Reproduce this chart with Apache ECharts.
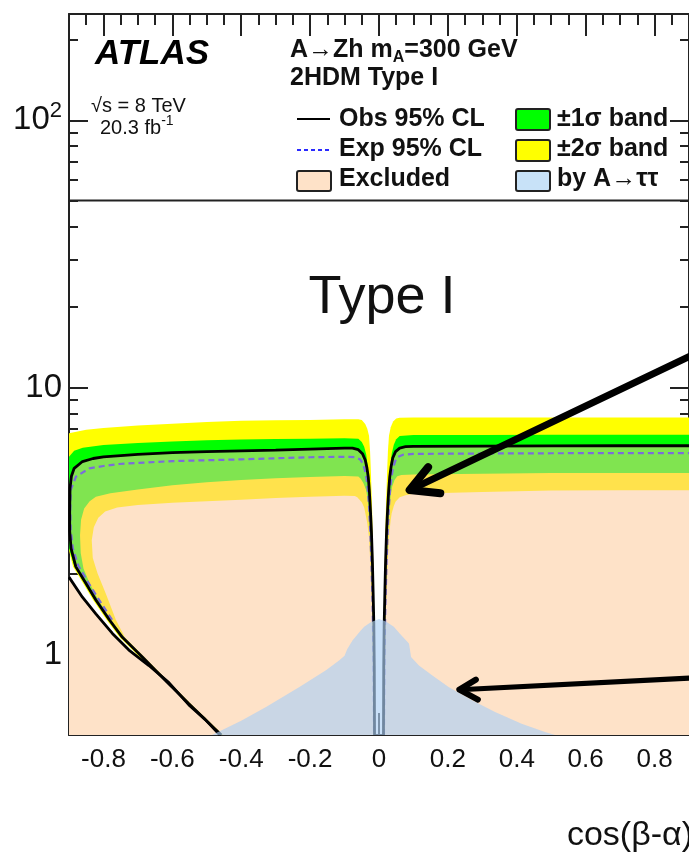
<!DOCTYPE html>
<html><head><meta charset="utf-8">
<script src="https://cdn.jsdelivr.net/npm/echarts@6/dist/echarts.min.js"></script>
<style>html,body{margin:0;padding:0;background:#fff}#c{width:689px;height:853px}</style>
</head><body><div id="c"></div>
<script>
// ---------- axis ticks ----------
const X_MIN = -0.9, X_MAX = 0.9, Y_MIN = 0.5, Y_MAX = 250;
const xTicks = [-0.8,-0.6,-0.4,-0.2,0,0.2,0.4,0.6,0.8];
const xMinorTicks = [-0.85,-0.75,-0.7,-0.65,-0.55,-0.5,-0.45,-0.35,-0.3,-0.25,-0.15,-0.1,-0.05,0.05,0.1,0.15,0.25,0.3,0.35,0.45,0.5,0.55,0.65,0.7,0.75,0.85];
const yTicks = [1,10,100];
const yMinorTicks = [0.6,0.7,0.8,0.9,2,3,4,5,6,7,8,9,20,30,40,50,60,70,80,90,200];

// ---------- contours, left of cos(beta-alpha)=0 : [x, tan(beta)] ----------
const band2UpLeft = [[-0.466,0.5],[-0.56,0.655],[-0.628,0.8],[-0.695,0.98],[-0.753,1.16],[-0.791,1.35],[-0.83,1.6],[-0.859,1.85],[-0.888,2.13],[-0.9,2.45],[-0.9,6.74],[-0.85,6.95],[-0.8,7.05],[-0.7,7.2],[-0.6,7.32],[-0.5,7.42],[-0.4,7.5],[-0.3,7.53],[-0.2,7.56],[-0.1,7.6],[-0.06,7.6],[-0.05,7.55],[-0.04,7.3],[-0.034,7.0],[-0.029,6.6],[-0.026,5.8],[-0.024,5.0],[-0.022,4.2],[-0.02,3.5],[-0.018,2.7],[-0.016,2.0],[-0.0145,1.4],[-0.0133,0.9],[-0.0125,0.5]];
const band1UpLeft = [[-0.462,0.5],[-0.556,0.655],[-0.624,0.8],[-0.691,0.98],[-0.749,1.16],[-0.787,1.35],[-0.826,1.6],[-0.855,1.85],[-0.884,2.13],[-0.9,2.5],[-0.9,5.5],[-0.885,5.8],[-0.86,5.95],[-0.8,6.09],[-0.7,6.2],[-0.6,6.28],[-0.5,6.34],[-0.4,6.38],[-0.3,6.41],[-0.2,6.43],[-0.1,6.45],[-0.06,6.42],[-0.05,6.25],[-0.043,6.0],[-0.037,5.6],[-0.033,5.1],[-0.029,4.5],[-0.026,3.8],[-0.023,3.1],[-0.02,2.4],[-0.018,1.8],[-0.016,1.3],[-0.0137,0.7],[-0.0128,0.5]];
const obsLeft = [[-0.458,0.5],[-0.552,0.655],[-0.62,0.8],[-0.687,0.98],[-0.745,1.16],[-0.783,1.35],[-0.822,1.6],[-0.851,1.85],[-0.88,2.13],[-0.894,2.5],[-0.898,2.9],[-0.898,3.5],[-0.897,4.2],[-0.893,4.65],[-0.885,4.98],[-0.861,5.28],[-0.83,5.42],[-0.8,5.5],[-0.7,5.62],[-0.6,5.7],[-0.5,5.75],[-0.4,5.79],[-0.3,5.83],[-0.2,5.88],[-0.1,5.93],[-0.077,5.93],[-0.06,5.85],[-0.048,5.65],[-0.04,5.35],[-0.035,5.0],[-0.031,4.6],[-0.028,4.1],[-0.025,3.5],[-0.022,2.9],[-0.019,2.2],[-0.017,1.7],[-0.015,1.3],[-0.0137,0.9],[-0.013,0.5]];
const expLeft = [[-0.775,1.35],[-0.815,1.62],[-0.845,1.87],[-0.873,2.15],[-0.889,2.5],[-0.895,2.93],[-0.896,3.5],[-0.895,4.14],[-0.88,4.63],[-0.841,4.98],[-0.8,5.08],[-0.755,5.17],[-0.7,5.22],[-0.6,5.3],[-0.5,5.34],[-0.4,5.38],[-0.3,5.43],[-0.2,5.48],[-0.1,5.5],[-0.07,5.48],[-0.055,5.38],[-0.047,5.2],[-0.041,4.9],[-0.036,4.55],[-0.032,4.1],[-0.029,3.6],[-0.026,3.0],[-0.023,2.4],[-0.02,1.8],[-0.018,1.4],[-0.016,1.0],[-0.0142,0.5]];
const band1LowLeft = [[-0.455,0.5],[-0.548,0.655],[-0.616,0.8],[-0.683,0.98],[-0.74,1.16],[-0.778,1.35],[-0.815,1.6],[-0.84,1.85],[-0.858,2.1],[-0.866,2.4],[-0.868,2.8],[-0.865,3.2],[-0.856,3.52],[-0.84,3.75],[-0.822,3.9],[-0.78,4.02],[-0.7,4.15],[-0.6,4.3],[-0.5,4.42],[-0.4,4.5],[-0.3,4.57],[-0.2,4.62],[-0.1,4.66],[-0.06,4.64],[-0.053,4.55],[-0.045,4.38],[-0.038,4.15],[-0.034,3.9],[-0.031,3.6],[-0.028,3.1],[-0.025,2.6],[-0.022,2.1],[-0.019,1.6],[-0.017,1.2],[-0.0155,0.8],[-0.0145,0.5]];
const band2LowLeft = [[-0.452,0.5],[-0.546,0.655],[-0.614,0.8],[-0.681,0.98],[-0.738,1.16],[-0.764,1.35],[-0.793,1.69],[-0.817,2.01],[-0.831,2.3],[-0.834,2.68],[-0.828,3.0],[-0.815,3.25],[-0.795,3.43],[-0.76,3.55],[-0.7,3.63],[-0.6,3.7],[-0.5,3.75],[-0.4,3.8],[-0.3,3.86],[-0.2,3.9],[-0.1,3.93],[-0.07,3.92],[-0.063,3.88],[-0.05,3.72],[-0.043,3.55],[-0.038,3.3],[-0.034,3.1],[-0.029,2.75],[-0.026,2.3],[-0.023,1.85],[-0.02,1.4],[-0.018,1.0],[-0.016,0.7],[-0.015,0.5]];
const obsLowerLeft = [[-0.9,1.95],[-0.861,1.64],[-0.822,1.42],[-0.774,1.2],[-0.726,1.04],[-0.668,0.91],[-0.61,0.785],[-0.552,0.648],[-0.505,0.572],[-0.462,0.5]];

// ---------- contours, right of 0 ----------
const band2UpRight = [[0.0125,0.5],[0.0133,0.9],[0.0145,1.4],[0.016,2.0],[0.018,2.7],[0.02,3.5],[0.022,4.2],[0.024,5.0],[0.026,5.8],[0.029,6.6],[0.034,7.1],[0.041,7.45],[0.05,7.65],[0.06,7.7],[0.1,7.72],[0.3,7.72],[0.5,7.72],[0.7,7.72],[0.9,7.72]];
const band1UpRight = [[0.0128,0.5],[0.0137,0.7],[0.016,1.3],[0.018,1.8],[0.02,2.4],[0.023,3.1],[0.026,3.8],[0.029,4.5],[0.033,5.1],[0.037,5.65],[0.043,6.1],[0.05,6.4],[0.06,6.58],[0.1,6.63],[0.3,6.64],[0.5,6.65],[0.7,6.65],[0.9,6.65]];
const obsRight = [[0.013,0.5],[0.0137,0.9],[0.015,1.3],[0.017,1.7],[0.019,2.2],[0.022,2.9],[0.025,3.5],[0.028,4.1],[0.031,4.6],[0.035,5.05],[0.04,5.45],[0.048,5.75],[0.06,5.93],[0.077,6.0],[0.1,6.02],[0.3,6.03],[0.5,6.04],[0.7,6.05],[0.9,6.05]];
const expRight = [[0.0142,0.5],[0.016,1.0],[0.018,1.4],[0.02,1.8],[0.023,2.4],[0.026,3.0],[0.029,3.6],[0.032,4.1],[0.036,4.6],[0.041,5.0],[0.047,5.3],[0.055,5.5],[0.07,5.6],[0.1,5.64],[0.3,5.66],[0.5,5.67],[0.7,5.68],[0.9,5.68]];
const band1LowRight = [[0.0145,0.5],[0.0155,0.8],[0.017,1.2],[0.019,1.6],[0.022,2.1],[0.025,2.6],[0.028,3.1],[0.031,3.6],[0.034,3.95],[0.038,4.25],[0.045,4.5],[0.053,4.65],[0.065,4.7],[0.1,4.72],[0.3,4.75],[0.5,4.78],[0.7,4.78],[0.9,4.78]];
const band2LowRight = [[0.015,0.5],[0.016,0.7],[0.018,1.0],[0.02,1.4],[0.023,1.85],[0.026,2.3],[0.029,2.75],[0.031,2.93],[0.034,3.2],[0.037,3.38],[0.043,3.6],[0.048,3.73],[0.06,3.88],[0.077,3.95],[0.1,4.0],[0.3,4.06],[0.5,4.11],[0.7,4.12],[0.9,4.12]];

// ---------- A -> tau tau excluded region ----------
const tauRegion = [[-0.485,0.5],[-0.4,0.565],[-0.328,0.636],[-0.231,0.756],[-0.154,0.873],[-0.116,0.95],[-0.1,0.99],[-0.092,1.05],[-0.077,1.13],[-0.053,1.23],[-0.043,1.27],[-0.024,1.32],[0,1.36],[0.02,1.33],[0.043,1.27],[0.06,1.2],[0.087,1.1],[0.09,1.04],[0.093,0.98],[0.116,0.91],[0.154,0.837],[0.202,0.756],[0.27,0.674],[0.337,0.609],[0.414,0.551],[0.482,0.513],[0.511,0.5]];

// ---------- annotation arrows ----------
const arrow1 = {tail:[0.93,13.6], tip:[0.089,4.13], barbA:[0.1425,5.03], barbB:[0.178,4.02]};
const arrow2 = {tail:[0.93,0.82], tip:[0.2333,0.739], barbA:[0.2813,0.806], barbB:[0.287,0.678]};

// ---------- colours ----------
const C_YELLOW = '#FFFF00', C_GREEN = '#00FF00', C_LGREEN = '#80E450', C_LYELLOW = '#FFE24C',
      C_PEACH = '#FEE2C8', C_TAU = 'rgba(172,207,245,0.65)', C_TAU_LEG = '#C8E2F8';
const FONT = '"Liberation Sans", Arial, Helvetica, sans-serif';
const AX = '#222';

function fillSeries(pts, color, z) {
  return {type:'custom', xAxisIndex:0, yAxisIndex:0, z:z, silent:true, clip:true,
    data:[[0,1]],
    renderItem:function(params, api){
      return {type:'polygon', shape:{points:pts.map(function(p){return api.coord(p);})}, style:{fill:color}};
    }};
}
function rightPoly(pts){ return pts.concat([[X_MAX, Y_MIN]]); }
function leftCorner(pts){ return pts.concat([[X_MIN, Y_MIN]]); }
function lineSeries(pts, color, width, type, z) {
  return {type:'line', xAxisIndex:0, yAxisIndex:0, z:z, silent:true, data:pts, showSymbol:false, symbol:'none',
    clip:true, lineStyle:{color:color, width:width, type:type || 'solid'}};
}
function arrowSeries(a, width, z) {
  return {type:'custom', xAxisIndex:0, yAxisIndex:0, z:z, silent:true, clip:false, data:[[0,1]],
    renderItem:function(params, api){
      const t = api.coord(a.tip);
      return {type:'group', children:[
        {type:'polyline', shape:{points:[api.coord(a.tail), t]}, style:{stroke:'#000', lineWidth:width, lineCap:'round', fill:null}},
        {type:'polyline', shape:{points:[api.coord(a.barbA), t, api.coord(a.barbB)]}, style:{stroke:'#000', lineWidth:width+1, lineCap:'round', lineJoin:'round', fill:null}}
      ]};
    }};
}

function fmtX(v){ const r = Math.round(v*10)/10; return r === 0 ? '0' : String(r); }
function fmtY(v){ const r = Math.round(v); return r === 100 ? '10{sup|2}' : String(r); }

function xAxisDef(pos, major) {
  return {type:'value', min:X_MIN, max:X_MAX, position:pos, gridIndex:0,
    axisLine:{show:major, onZero:false, lineStyle:{color:AX, width:2}},
    axisTick:{show:true, inside:true, length:major?22:11, customValues:major?xTicks:xMinorTicks, lineStyle:{color:AX, width:2}},
    axisLabel:(major && pos==='bottom') ? {show:true, customValues:xTicks, formatter:fmtX, fontSize:26, color:'#111', margin:12, fontFamily:FONT} : {show:false},
    splitLine:{show:false}};
}
function yAxisDef(pos, major) {
  return {type:'log', logBase:10, min:Y_MIN, max:Y_MAX, position:pos, gridIndex:0,
    axisLine:{show:major, onZero:false, lineStyle:{color:AX, width:2}},
    axisTick:{show:true, inside:true, length:major?19:9, customValues:major?yTicks:yMinorTicks, lineStyle:{color:AX, width:2}},
    axisLabel:(major && pos==='left') ? {show:true, customValues:yTicks, formatter:fmtY, fontSize:33, lineHeight:40, color:'#111', margin:7, fontFamily:FONT,
        rich:{sup:{fontSize:22, lineHeight:22, verticalAlign:'top', fontFamily:FONT, color:'#111'}}} : {show:false},
    splitLine:{show:false}, minorTick:{show:false}};
}

function txt(x, y, text, size, opts) {
  opts = opts || {};
  return {type:'text', x:x, y:y, z:100, silent:true, style:{text:text, fontSize:size, fontFamily:FONT,
    fontWeight:opts.weight||'normal', fontStyle:opts.style||'normal', fill:opts.color||'#111',
    align:opts.align||'left', verticalAlign:'middle', lineHeight:opts.lineHeight, rich:opts.rich}};
}
function rect(x, y, w, h, fill) {
  return {type:'rect', z:100, silent:true, shape:{x:x, y:y, width:w, height:h, r:2}, style:{fill:fill, stroke:'#222', lineWidth:2}};
}

const chart = echarts.init(document.getElementById('c'), null, {renderer:'canvas'});
chart.setOption({
  animation:false,
  backgroundColor:'#fff',
  textStyle:{fontFamily:FONT},
  grid:{left:69, top:14, width:622.5, height:721},
  xAxis:[xAxisDef('bottom', true), xAxisDef('bottom', false), xAxisDef('top', true), xAxisDef('top', false)],
  yAxis:[yAxisDef('left', true), yAxisDef('left', false), yAxisDef('right', true), yAxisDef('right', false)],
  series:[
    fillSeries(band2UpLeft, C_YELLOW, 1), fillSeries(rightPoly(band2UpRight), C_YELLOW, 1),
    fillSeries(band1UpLeft, C_GREEN, 2), fillSeries(rightPoly(band1UpRight), C_GREEN, 2),
    fillSeries(obsLeft, C_LGREEN, 3), fillSeries(rightPoly(obsRight), C_LGREEN, 3),
    fillSeries(band1LowLeft, C_LYELLOW, 4), fillSeries(rightPoly(band1LowRight), C_LYELLOW, 4),
    fillSeries(band2LowLeft, C_PEACH, 5), fillSeries(rightPoly(band2LowRight), C_PEACH, 5),
    fillSeries(leftCorner(obsLowerLeft), C_PEACH, 5),
    lineSeries(expLeft, '#7B6CDB', 2.2, [6,4], 6), lineSeries(expRight, '#7B6CDB', 2.2, [6,4], 6),
    lineSeries(obsLeft, '#000', 2.8, 'solid', 7), lineSeries(obsRight, '#000', 2.8, 'solid', 7),
    lineSeries(obsLowerLeft, '#000', 2.8, 'solid', 7),
    fillSeries(tauRegion, C_TAU, 8),
    arrowSeries(arrow1, 7, 9), arrowSeries(arrow2, 5, 9)
  ],
  graphic:[
    {type:'line', z:100, silent:true, shape:{x1:69, y1:200.5, x2:692, y2:200.5}, style:{stroke:AX, lineWidth:2}},
    txt(95, 54, 'ATLAS', 35, {weight:'bold', style:'italic', color:'#000'}),
    txt(91, 106, '\u221As = 8 TeV', 20),
    txt(100, 128, '20.3 fb{sup|-1}', 20, {lineHeight:28, rich:{sup:{fontSize:14, lineHeight:14, verticalAlign:'top', fontFamily:FONT, fill:'#111'}}}),
    txt(290, 50, 'A\u2192Zh m{sub|A}=300 GeV', 25, {weight:'bold', lineHeight:32, rich:{sub:{fontSize:16, lineHeight:16, verticalAlign:'bottom', fontWeight:'bold', fontFamily:FONT, fill:'#111'}}}),
    txt(290, 78, '2HDM Type I', 25, {weight:'bold'}),
    {type:'line', z:100, silent:true, shape:{x1:297, y1:119, x2:330, y2:119}, style:{stroke:'#000', lineWidth:2}},
    txt(339, 119, 'Obs 95% CL', 25, {weight:'bold'}),
    {type:'line', z:100, silent:true, shape:{x1:297, y1:150, x2:332, y2:150}, style:{stroke:'#2a2aff', lineWidth:2, lineDash:[4,3]}},
    txt(339, 149, 'Exp 95% CL', 25, {weight:'bold'}),
    rect(297, 171, 34, 20, C_PEACH),
    txt(339, 179, 'Excluded', 25, {weight:'bold'}),
    rect(516, 109, 34, 21, C_GREEN),
    txt(557, 119, '\u00B11\u03C3 band', 25, {weight:'bold'}),
    rect(516, 140, 34, 21, C_YELLOW),
    txt(557, 149, '\u00B12\u03C3 band', 25, {weight:'bold'}),
    rect(516, 171, 34, 20, C_TAU_LEG),
    txt(557, 179, 'by A\u2192\u03C4\u03C4', 25, {weight:'bold'}),
    txt(382, 298, 'Type I', 54, {align:'center'}),
    txt(693, 836, 'cos(\u03B2-\u03B1)', 34, {align:'right'})
  ]
});
</script>
</body></html>
